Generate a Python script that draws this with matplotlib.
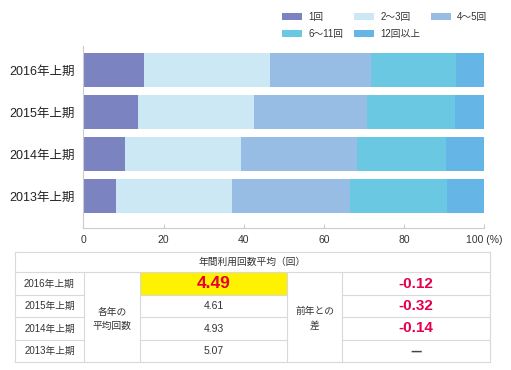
import matplotlib
matplotlib.use("Agg")
import matplotlib.pyplot as plt
import numpy as np

plt.rcParams['font.family'] = ['Liberation Sans', 'Noto Sans CJK JP', 'DejaVu Sans']

periods = ['2016年上期', '2015年上期', '2014年上期', '2013年上期']
categories = ['1回', '2〜3回', '4〜5回', '6〜11回', '12回以上']
share_1 = [15.1, 13.6, 10.4, 8.2]
share_2_3 = [31.5, 29.0, 28.9, 28.8]
share_4_5 = [25.1, 28.1, 29.0, 29.5]
share_6_11 = [21.2, 22.0, 22.1, 24.1]
share_12 = [7.1, 7.3, 9.6, 9.4]
colors = ['#7b83c1', '#cce8f4', '#98bde4', '#6bc8e2', '#65b5e6']

xticks = [0, 20, 40, 60, 80, 100]
xticklabels = ['0', '20', '40', '60', '80', '100 (%)']

table_header = '年間利用回数平均（回）'
avg_label = '各年の\n平均回数'
diff_label = '前年との\n差'
avg_values = ['4.49', '4.61', '4.93', '5.07']
diff_values = ['-0.12', '-0.32', '-0.14', '—']

W, H = 511, 370
fig = plt.figure(figsize=(W / 100, H / 100), dpi=100)

def fx(px):
    return px / W

def fy(py):
    return 1 - py / H

# ---- bar chart ----
ax_l, ax_r, ax_t, ax_b = 83.3, 484.3, 46, 228
ax = fig.add_axes([fx(ax_l), fy(ax_b), (ax_r - ax_l) / W, (ax_b - ax_t) / H])
ypos = np.arange(len(periods))[::-1]  # 2016 at top
series = [share_1, share_2_3, share_4_5, share_6_11, share_12]
left = np.zeros(len(periods))
handles = []
for vals, c, lab in zip(series, colors, categories):
    b = ax.barh(ypos, vals, left=left, height=0.8, color=c, label=lab, linewidth=0)
    handles.append(b)
    left += np.array(vals)

ax.set_xlim(0, 100)
ax.set_ylim(-0.753, 3.57)
ax.set_yticks(ypos)
ax.set_yticklabels(periods, fontsize=9, color='#222222')
ax.set_xticks(xticks)
ax.set_xticklabels(xticklabels, fontsize=7.5, color='#333333')
ax.tick_params(axis='y', length=0, pad=6)
ax.tick_params(axis='x', direction='in', length=3, color='#cccccc', pad=5)
for s in ['top', 'right']:
    ax.spines[s].set_visible(False)
for s in ['left', 'bottom']:
    ax.spines[s].set_color('#cccccc')
    ax.spines[s].set_linewidth(0.8)

order = [0, 3, 1, 4, 2]
leg = ax.legend([handles[i] for i in order], [categories[i] for i in order],
                ncol=3, loc='upper left', bbox_to_anchor=(fx(282), fy(12)),
                bbox_transform=fig.transFigure, frameon=False, fontsize=7,
                handlelength=2.1, handleheight=0.8, handletextpad=0.6,
                columnspacing=1.1, labelspacing=0.7, borderpad=0, borderaxespad=0)
for t in leg.get_texts():
    t.set_color('#333333')

# ---- table ----
tab = fig.add_axes([0, 0, 1, 1], zorder=-1)
tab.set_xlim(0, W)
tab.set_ylim(H, 0)
tab.axis('off')
tab.patch.set_alpha(0)

x0, x1, x2, x3, x4, x5 = 15, 84, 140, 287, 342, 490
ys = [252, 272, 295, 317, 340, 362]
lc = '#d9d9d9'
lw = 0.8

tab.add_patch(plt.Rectangle((x2, ys[1]), x3 - x2, ys[2] - ys[1], color='#fff200', lw=0))

for y in [ys[0], ys[1], ys[5]]:
    tab.plot([x0, x5], [y, y], color=lc, lw=lw)
for y in ys[2:5]:
    tab.plot([x0, x1], [y, y], color=lc, lw=lw)
    tab.plot([x2, x3], [y, y], color=lc, lw=lw)
    tab.plot([x4, x5], [y, y], color=lc, lw=lw)
for x in [x0, x5]:
    tab.plot([x, x], [ys[0], ys[5]], color=lc, lw=lw)
for x in [x1, x2, x3, x4]:
    tab.plot([x, x], [ys[1], ys[5]], color=lc, lw=lw)

tab.text((x0 + x5) / 2, (ys[0] + ys[1]) / 2, table_header, ha='center', va='center',
         fontsize=7, color='#333333')
red = '#e4004f'
for i in range(4):
    yc = (ys[i + 1] + ys[i + 2]) / 2
    tab.text((x0 + x1) / 2, yc, periods[i], ha='center', va='center', fontsize=7, color='#333333')
    if i == 0:
        tab.text((x2 + x3) / 2, yc, avg_values[i], ha='center', va='center', fontsize=12.5,
                 fontweight='bold', color='#e60033')
    else:
        tab.text((x2 + x3) / 2, yc, avg_values[i], ha='center', va='center', fontsize=7.5,
                 color='#333333')
    if diff_values[i] == '—':
        tab.text((x4 + x5) / 2, yc, diff_values[i], ha='center', va='center', fontsize=9,
                 fontweight='bold', color='#444444', family=['Noto Sans CJK JP'])
    else:
        tab.text((x4 + x5) / 2, yc, diff_values[i], ha='center', va='center', fontsize=11,
                 fontweight='bold', color=red)

tab.text((x1 + x2) / 2, 319, avg_label, ha='center', va='center', fontsize=7,
         color='#333333', linespacing=1.6, multialignment='center')
tab.text((x3 + x4) / 2, 318.5, diff_label, ha='center', va='center', fontsize=7,
         color='#333333', linespacing=1.6, multialignment='center')

fig.savefig('out.png', dpi=100)
